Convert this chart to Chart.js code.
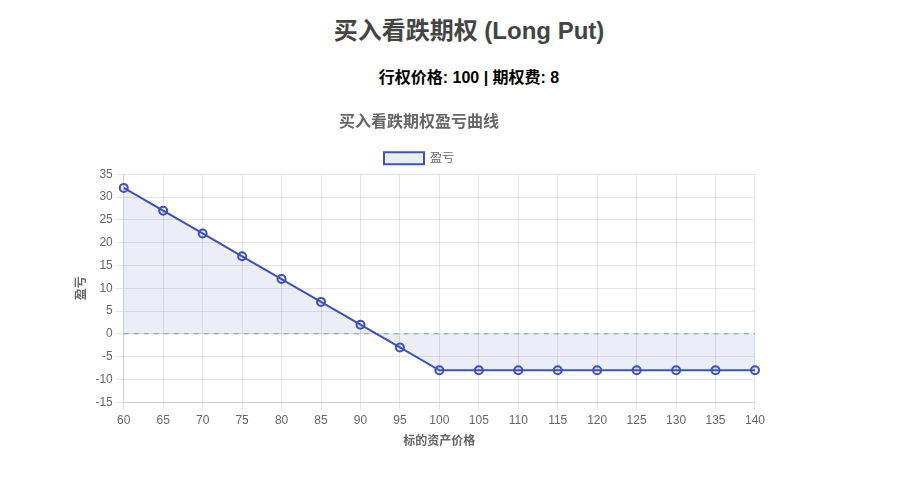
<!DOCTYPE html>
<html>
<head>
<meta charset="utf-8">
<script src="https://cdn.jsdelivr.net/npm/chart.js@4.4.0/dist/chart.umd.min.js"></script>
<style>
  body { margin: 0; background: #fff; font-family: Arial, "Liberation Sans", "Noto Sans CJK SC", sans-serif; }
  h1 { position: absolute; top: 11px; left: 0; width: 938px; margin: 0; text-align: center; font-size: 24px; color: #444; }
  .info { position: absolute; top: 64px; left: 0; width: 938px; margin: 0; text-align: center; font-size: 16px; font-weight: bold; color: #000; }
  .box { position: absolute; left: 70px; top: 103px; width: 698px; height: 350px; }
</style>
</head>
<body>
<h1>买入看跌期权 (Long Put)</h1>
<p class="info">行权价格: 100 | 期权费: 8</p>
<div class="box"><canvas id="pnlChart"></canvas></div>
<script>
const prices = ["60", "65", "70", "75", "80", "85", "90", "95", "100", "105", "110", "115", "120", "125", "130", "135", "140"];
const profit = [32, 27, 22, 17, 12, 7, 2, -3, -8, -8, -8, -8, -8, -8, -8, -8, -8];
const breakEven = [0, 0, 0, 0, 0, 0, 0, 0, 0, 0, 0, 0, 0, 0, 0, 0, 0];

document.addEventListener("DOMContentLoaded", function () {
    const ctx = document.getElementById("pnlChart").getContext("2d");
    Chart.defaults.font.family = 'Arial, "Liberation Sans", "Noto Sans CJK SC", sans-serif';

    new Chart(ctx, {
        type: "line",
        data: {
            labels: prices,
            datasets: [{
                label: "盈亏",
                data: profit,
                borderColor: "#3f51b5",
                backgroundColor: "rgba(63, 81, 181, 0.1)",
                borderWidth: 2,
                pointRadius: 4,
                pointBorderWidth: 2,
                fill: "origin",
                tension: 0
            }, {
                label: "零线",
                data: breakEven,
                borderColor: "rgba(0, 0, 0, 0.25)",
                borderWidth: 1.5,
                borderDash: [5, 5],
                pointRadius: 0,
                fill: false
            }]
        },
        options: {
            responsive: true,
            maintainAspectRatio: false,
            animation: false,
            plugins: {
                title: {
                    display: true,
                    text: "买入看跌期权盈亏曲线",
                    font: { size: 16, weight: "bold" }
                },
                legend: {
                    labels: {
                        filter: function (item) { return item.text === "盈亏"; }
                    }
                },
                tooltip: { enabled: false }
            },
            scales: {
                x: {
                    title: { display: true, text: "标的资产价格", font: { weight: "bold" } }
                },
                y: {
                    min: -15,
                    max: 35,
                    ticks: { stepSize: 5 },
                    title: { display: true, text: "盈亏", font: { weight: "bold" } }
                }
            }
        }
    });
});
</script>
</body>
</html>
